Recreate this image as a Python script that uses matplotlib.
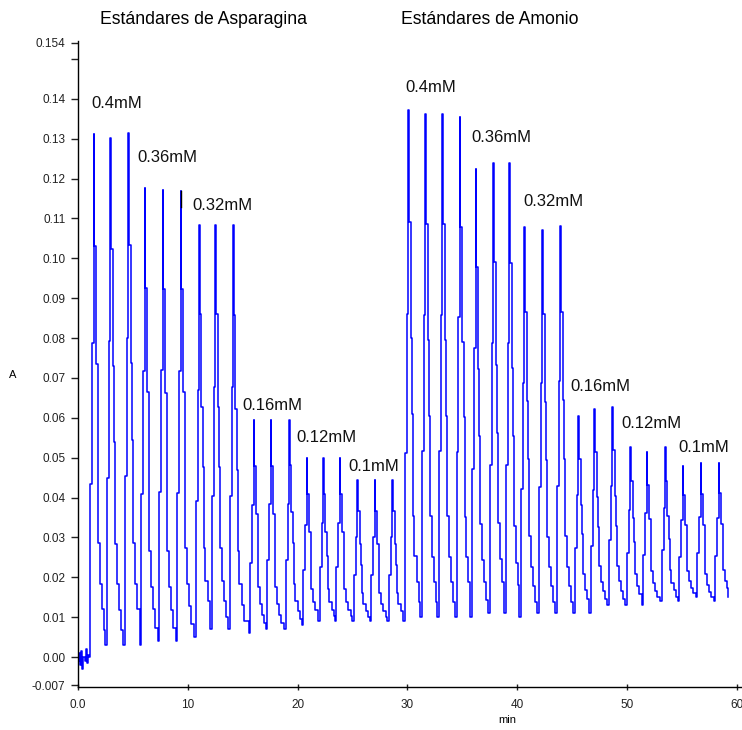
import matplotlib
matplotlib.use("Agg")
import matplotlib.pyplot as plt
from matplotlib import font_manager

# apex time (min) and absorbance of every injection peak
peak_time = [1.46, 2.98, 4.62, 6.11, 7.75, 9.39, 11.06, 12.55, 14.16,
             16.04, 17.59, 19.26, 20.87, 22.36, 23.88, 25.46, 27.07, 28.65,
             30.11, 31.69, 33.21, 34.82, 36.25, 37.86, 39.32, 40.69, 42.33, 43.97,
             45.61, 47.06, 48.70, 50.35, 51.84, 53.51, 55.12, 56.76, 58.40]
peak_height = [0.1313, 0.1302, 0.1315, 0.1176, 0.1172, 0.1168, 0.1084, 0.1084, 0.1084,
               0.0594, 0.0594, 0.0594, 0.0499, 0.0499, 0.0499, 0.0443, 0.0443, 0.0443,
               0.1372, 0.1363, 0.1363, 0.1355, 0.1224, 0.1240, 0.1238, 0.1078, 0.1072, 0.1080,
               0.0605, 0.0623, 0.0628, 0.0528, 0.0515, 0.0528, 0.0480, 0.0486, 0.0486]
# baseline level before each peak, plus the level at the end of the run
valley = [0.000, 0.003, 0.003, 0.003, 0.004, 0.004, 0.005, 0.007, 0.007, 0.006,
          0.007, 0.007, 0.008, 0.009, 0.009, 0.009, 0.009, 0.009, 0.009,
          0.010, 0.010, 0.010, 0.010, 0.011, 0.011, 0.010, 0.011, 0.011, 0.011,
          0.011, 0.013, 0.013, 0.013, 0.014, 0.014, 0.015, 0.014, 0.015]
end_time = 59.25

# noisy baseline before the first injection
base_t = [0.0, 0.1, 0.2, 0.3, 0.4, 0.5, 0.6, 0.7, 0.8, 0.9]
base_v = [-0.001, 0.001, -0.002, 0.0015, -0.003, 0.0, -0.001, 0.002, -0.0015, 0.0005]

# stepped peak profile seen on the trace (offset from apex in min, fraction of height)
rise_dt = [-0.49, -0.33, -0.16, -0.03]
rise_frac = [0.0, 0.33, 0.60, 1.0]
fall_dt = [0.03, 0.19, 0.33, 0.40, 0.55, 0.75, 0.95]
fall_frac = [0.78, 0.55, 0.40, 0.20, 0.12, 0.07, 0.03]

groups = ["Estándares de Asparagina", "Estándares de Amonio"]
conc_labels = ["0.4mM", "0.36mM", "0.32mM", "0.16mM", "0.12mM", "0.1mM"] * 2

yticks = [-0.007, 0.00, 0.01, 0.02, 0.03, 0.04, 0.05, 0.06, 0.07, 0.08, 0.09,
          0.10, 0.11, 0.12, 0.13, 0.14, 0.15, 0.154]
ytick_labels = ["-0.007", "0.00", "0.01", "0.02", "0.03", "0.04", "0.05", "0.06",
                "0.07", "0.08", "0.09", "0.10", "0.11", "0.12", "0.13", "0.14", "", "0.154"]
xticks = [0, 10, 20, 30, 40, 50, 60]
xtick_labels = ["0.0", "10", "20", "30", "40", "50", "60"]


def pick_font(*names):
    for n in names:
        try:
            font_manager.findfont(n, fallback_to_default=False)
            return n
        except ValueError:
            pass
    return "DejaVu Sans"


font = pick_font("Liberation Sans", "Arial")
plt.rcParams["font.family"] = [font, "DejaVu Sans"]

# build the trace
t_pts, a_pts = list(base_t), list(base_v)
n = len(peak_time)
for i in range(n):
    tp, h = peak_time[i], peak_height[i]
    v0, v1 = valley[i], valley[i + 1]
    nxt = peak_time[i + 1] + rise_dt[0] if i + 1 < n else end_time
    for dt, f in zip(rise_dt, rise_frac):
        t_pts.append(tp + dt)
        a_pts.append(v0 + f * (h - v0))
    for dt, f in zip(fall_dt, fall_frac):
        if tp + dt < nxt - 0.05:
            t_pts.append(tp + dt)
            a_pts.append(v1 + f * (h - v1))
t_pts.append(end_time)
a_pts.append(valley[-1])

W, H = 742, 730
fig = plt.figure(figsize=(W / 100, H / 100), dpi=100)
ax = fig.add_axes([78 / W, 43 / H, (W - 78) / W, 646 / H])

ax.plot(t_pts, a_pts, color="#0000ff", lw=1.1, drawstyle="steps-post")
# short dark mark on top of the sixth peak
ax.plot([peak_time[5], peak_time[5]], [0.1128, peak_height[5]], color="black", lw=1.0)

ax.set_xlim(0, 60.5)
ax.set_ylim(-0.0075, 0.1545)
for s in ["top", "right"]:
    ax.spines[s].set_visible(False)
for s in ["left", "bottom"]:
    ax.spines[s].set_linewidth(1.0)
    ax.spines[s].set_color("black")

ax.set_yticks(yticks)
ax.set_yticklabels(ytick_labels)
ax.set_xticks(xticks)
ax.set_xticklabels(xtick_labels)
ax.tick_params(axis="y", direction="out", length=5, width=1, pad=4,
               labelsize=8.5, colors="#222222")
ax.tick_params(axis="x", direction="inout", length=4, width=1, pad=7,
               labelsize=8.5, colors="#222222")

fig.text(13 / W, 1 - 375 / H, "A", fontsize=8, ha="center", va="center")
fig.text(507 / W, 1 - 720 / H, "min", fontsize=8, ha="center", va="center")

fig.text(204 / W, 1 - 20 / H, groups[0], fontsize=12.7, ha="center", va="center")
fig.text(490 / W, 1 - 20 / H, groups[1], fontsize=12.7, ha="center", va="center")

# label positions in pixels (left edge, vertical centre)
label_pos = [(91, 103), (137, 157), (192, 205), (242, 405), (296, 437), (348, 466),
             (405, 88), (471, 137), (523, 202), (570, 386), (621, 423), (678, 448)]
for txt, (px, py) in zip(conc_labels, label_pos):
    fig.text(px / W, 1 - py / H, txt, fontsize=12, ha="left", va="center",
             color="#111111")

plt.savefig("out.png", dpi=100)
